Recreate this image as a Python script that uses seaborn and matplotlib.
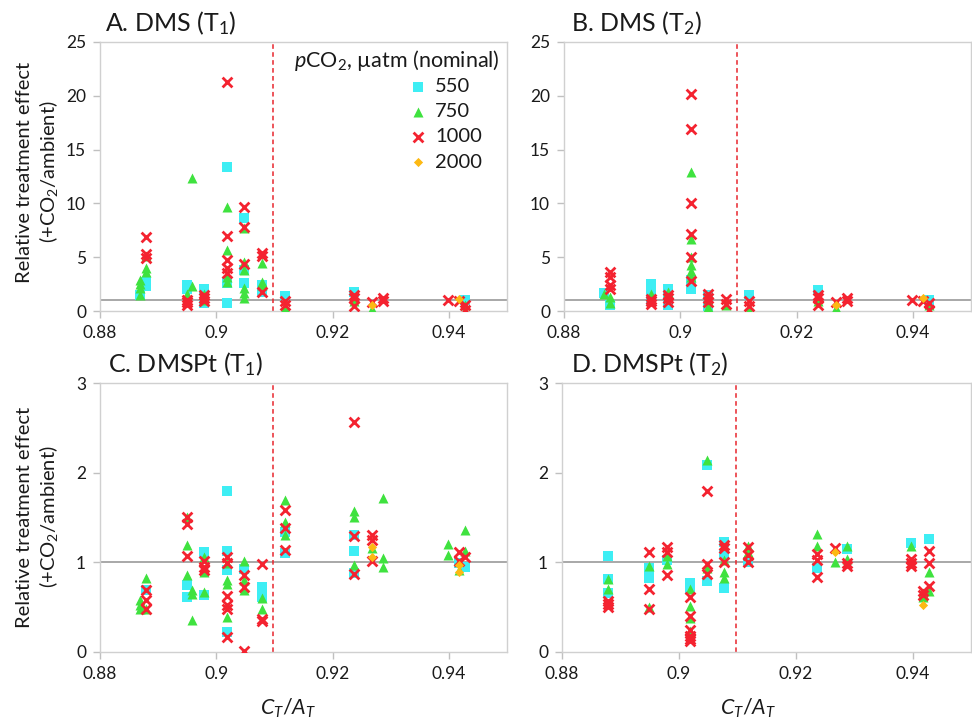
import matplotlib
matplotlib.use("Agg")
import matplotlib.pyplot as plt
import pandas as pd
import seaborn as sns

# ---------------- data ----------------
LEVELS = ["550", "750", "1000", "2000"]
XTICKS = [0.88, 0.90, 0.92, 0.94]
XTICK_LABELS = ["0.88", "0.9", "0.92", "0.94"]
YTICKS_DMS = [0, 5, 10, 15, 20, 25]
YTICKS_DMSP = [0, 1, 2, 3]
THRESHOLD = 0.9097

# Panel A: DMS (T1)  {CT/AT: [relative effects]}
A_550 = {0.8868: [1.5], 0.8879: [2.7, 2.3], 0.8949: [2.4, 2.0], 0.8979: [2.0, 0.7],
         0.9019: [13.4, 2.6, 0.75], 0.9048: [8.6, 3.8, 2.6], 0.9078: [2.4, 1.8],
         0.9118: [1.4], 0.9237: [1.8], 0.9428: [1.0]}
A_750 = {0.8868: [2.9, 2.5, 2.1, 1.5], 0.8879: [5.1, 4.0, 3.6], 0.8949: [1.6],
         0.8958: [12.4, 2.3], 0.8979: [1.6, 1.0], 0.9019: [9.7, 5.7, 3.2, 2.7],
         0.9048: [7.7, 4.6, 3.8, 2.1, 1.7, 1.2], 0.9078: [4.5, 2.7, 2.4],
         0.9118: [0.25], 0.9237: [0.9], 0.9267: [0.2], 0.9428: [0.6]}
A_1000 = {0.8879: [6.85, 5.3, 4.9], 0.8949: [1.0, 0.8, 0.6], 0.8979: [1.5, 1.2, 0.9],
          0.9019: [21.3, 7.0, 4.7, 4.0, 3.5], 0.9048: [9.7, 7.8, 4.4],
          0.9078: [5.4, 5.1, 1.8], 0.9118: [0.9, 0.55], 0.9237: [1.5, 1.2, 0.5],
          0.9267: [0.8], 0.9287: [1.2, 0.9], 0.9398: [1.0], 0.9417: [0.9],
          0.9428: [0.6, 0.1]}
A_2000 = {0.9267: [0.55], 0.9417: [1.15]}

# Panel B: DMS (T2)
B_550 = {0.8868: [1.7], 0.8879: [0.55], 0.8949: [2.5, 1.8, 1.0], 0.8979: [2.0, 1.2, 0.6],
         0.9019: [2.9, 2.0], 0.9048: [1.5, 0.5], 0.9118: [1.5], 0.9237: [1.95],
         0.9428: [1.05]}
B_750 = {0.8868: [1.6], 0.8879: [1.3, 0.7], 0.8949: [1.6], 0.8979: [1.8],
         0.9019: [12.9, 6.7, 5.0, 4.3, 3.7, 3.2], 0.9048: [0.9, 0.4], 0.9078: [0.55],
         0.9118: [0.1], 0.9237: [0.9], 0.9267: [0.25], 0.9428: [0.55]}
B_1000 = {0.8879: [3.65, 3.2, 2.4, 2.0], 0.8949: [1.1, 0.9, 0.65], 0.8979: [1.5, 1.2, 0.8],
          0.9019: [20.2, 16.9, 10.0, 7.2, 5.05, 2.8], 0.9048: [1.6, 1.2, 0.8],
          0.9078: [1.1, 0.65], 0.9118: [0.9, 0.5], 0.9237: [1.5, 1.2, 0.55],
          0.9267: [0.85], 0.9287: [1.2, 0.9], 0.9398: [1.0], 0.9417: [0.9],
          0.9428: [0.7, 0.05]}
B_2000 = {0.9267: [0.55], 0.9417: [1.2]}

# Panel C: DMSPt (T1)
C_550 = {0.8879: [0.69], 0.8949: [0.75, 0.61], 0.8979: [1.12, 0.64],
         0.9019: [1.80, 1.13, 0.91, 0.22], 0.9048: [0.93], 0.9078: [0.73, 0.61],
         0.9118: [1.34, 1.10], 0.9237: [1.30, 1.13, 0.88], 0.9417: [0.99], 0.9428: [0.95]}
C_750 = {0.8868: [0.58, 0.52, 0.48], 0.8879: [0.82, 0.48], 0.8949: [1.51, 1.19, 0.86],
         0.8958: [0.69, 0.65, 0.36], 0.8979: [1.06, 0.89, 0.67],
         0.9019: [0.99, 0.80, 0.76, 0.39], 0.9048: [1.02, 0.80, 0.69],
         0.9078: [0.60, 0.48], 0.9118: [1.70, 1.45, 1.30], 0.9237: [1.57, 1.51, 0.97],
         0.9267: [1.16], 0.9287: [1.72, 1.05, 0.95], 0.9398: [1.20, 1.08],
         0.9417: [0.91], 0.9428: [1.36, 1.13]}
C_1000 = {0.8879: [0.69, 0.58, 0.48], 0.8949: [1.51, 1.43, 1.07], 0.8979: [1.02, 0.95, 0.91],
          0.9019: [1.06, 0.99, 0.63, 0.52, 0.48, 0.17], 0.9048: [0.86, 0.72, 0.01],
          0.9078: [0.98, 0.37, 0.35], 0.9118: [1.58, 1.38, 1.14],
          0.9237: [2.57, 1.29, 0.87], 0.9267: [1.30, 1.25, 1.02],
          0.9417: [1.11, 1.01], 0.9428: [1.06]}
C_2000 = {0.9267: [1.17, 1.06], 0.9417: [0.97, 0.89]}

# Panel D: DMSPt (T2)
D_550 = {0.8879: [1.07, 0.81, 0.66], 0.8949: [0.94, 0.83], 0.8979: [1.03],
         0.9019: [0.77, 0.70], 0.9048: [2.08, 0.79], 0.9078: [1.23, 1.09, 0.71],
         0.9118: [1.0], 0.9237: [0.94], 0.9287: [1.15], 0.9398: [1.22], 0.9428: [1.26]}
D_750 = {0.8879: [0.81, 0.70], 0.8949: [0.96, 0.50], 0.8979: [1.07, 0.98],
         0.9019: [0.70, 0.51, 0.38, 0.23], 0.9048: [2.14, 0.94],
         0.9078: [1.03, 0.89, 0.83], 0.9118: [1.18, 1.12], 0.9237: [1.32, 1.18],
         0.9267: [1.00], 0.9287: [1.18, 1.04], 0.9398: [1.18], 0.9417: [0.66, 0.61],
         0.9428: [0.89, 0.68]}
D_1000 = {0.8879: [0.57, 0.53, 0.50], 0.8949: [1.11, 0.70, 0.48], 0.8979: [1.17, 1.11, 0.86],
          0.9019: [0.61, 0.40, 0.25, 0.18, 0.14, 0.12], 0.9048: [1.80, 0.98, 0.87],
          0.9078: [1.19, 1.16, 1.0], 0.9118: [1.17, 1.08, 1.0],
          0.9237: [1.09, 1.03, 0.84], 0.9267: [1.16], 0.9287: [0.99, 0.96],
          0.9398: [1.04, 0.99, 0.96], 0.9417: [0.68, 0.64], 0.9428: [1.13, 0.99, 0.74]}
D_2000 = {0.9267: [1.12], 0.9417: [0.52]}

PANELS = [
    ("A. DMS (T$_1$)", [A_550, A_750, A_1000, A_2000], YTICKS_DMS),
    ("B. DMS (T$_2$)", [B_550, B_750, B_1000, B_2000], YTICKS_DMS),
    ("C. DMSPt (T$_1$)", [C_550, C_750, C_1000, C_2000], YTICKS_DMSP),
    ("D. DMSPt (T$_2$)", [D_550, D_750, D_1000, D_2000], YTICKS_DMSP),
]

# ---------------- style ----------------
sns.set_theme(style="white")
plt.rcParams["font.family"] = ["Lato", "DejaVu Sans"]
plt.rcParams["mathtext.fontset"] = "custom"
plt.rcParams["mathtext.rm"] = "Lato"
plt.rcParams["mathtext.it"] = "Lato:italic"
plt.rcParams["mathtext.bf"] = "Lato:bold"

COLORS = {"550": "#3EEEF4", "750": "#3FE23F", "1000": "#F42330", "2000": "#FDB913"}
MARKERS = {"550": "s", "750": "^", "1000": "x", "2000": "D"}
SIZES = {"550": 44, "750": 52, "1000": 50, "2000": 22}
TEXT = "#1a1a1a"
W, H = 972, 728

fig = plt.figure(figsize=(W / 100, H / 100), dpi=100)

# axes rectangles in pixels: left, top, right, bottom
RECTS = [(100, 42, 507, 311), (564, 42, 971, 311),
         (100, 383, 507, 652), (562, 383, 971, 652)]
TITLE_POS = [(105, 31), (571, 31), (108, 372), (571, 372)]


def to_frame(d):
    rows = [(x, v) for x, vals in d.items() for v in vals]
    return pd.DataFrame(rows, columns=["ctat", "effect"])


for i, ((title, series, yticks), rect, tpos) in enumerate(zip(PANELS, RECTS, TITLE_POS)):
    l, t, r, b = rect
    ax = fig.add_axes([l / W, 1 - b / H, (r - l) / W, (b - t) / H])
    ax.axhline(1, color="#A8A8A8", lw=1.4, zorder=1)
    ax.axvline(THRESHOLD, color="#E8262E", lw=1.1, ls=(0, (3, 2.2)), zorder=1)
    for lev, d in zip(LEVELS, series):
        df = to_frame(d)
        kw = dict(marker=MARKERS[lev], s=SIZES[lev], color=COLORS[lev], zorder=3)
        if MARKERS[lev] == "x":
            kw.update(linewidth=2.0)
        else:
            kw.update(linewidth=0)
        if i == 0:
            kw["label"] = lev
        sns.scatterplot(data=df, x="ctat", y="effect", ax=ax, legend=False, **kw)
    ax.set_xlim(0.88, 0.95)
    ax.set_ylim(yticks[0], yticks[-1])
    ax.set_xticks(XTICKS)
    ax.set_xticklabels(XTICK_LABELS)
    ax.set_yticks(yticks)
    ax.set_xlabel("")
    ax.set_ylabel("")
    for sp in ax.spines.values():
        sp.set_color("#D0D0D0")
        sp.set_linewidth(1.0)
        sp.set_visible(True)
    ax.tick_params(axis="both", direction="out", length=5, width=1, color="#C0C0C0",
                   labelsize=12.5, labelcolor=TEXT, bottom=True, left=True)
    ax.tick_params(axis="x", pad=5)
    ax.tick_params(axis="y", pad=5)
    ax.grid(False)
    fig.text(tpos[0] / W, 1 - tpos[1] / H, title, fontsize=18, color=TEXT,
             ha="left", va="baseline")

    if i == 0:
        handles, labels = ax.get_legend_handles_labels()
        ax.legend(handles, labels, loc="upper left",
                  bbox_to_anchor=(406 / W, 1 - 78 / H), bbox_transform=fig.transFigure,
                  frameon=False, fontsize=14.5, labelspacing=0.4, handletextpad=0.25,
                  handlelength=1.2, borderpad=0, borderaxespad=0, labelcolor=TEXT)
        fig.text(500 / W, 1 - 67 / H, "$p$CO$_2$, \u00b5atm (nominal)", fontsize=15.5,
                 color=TEXT, ha="right", va="baseline")

# y-axis titles
for yc in (172, 517):
    fig.text(38 / W, 1 - yc / H, "Relative treatment effect\n(+CO$_2$/ambient)",
             rotation=90, fontsize=14.5, color=TEXT, ha="center", va="center",
             multialignment="center", linespacing=1.2)

# x-axis titles
for xc in (288, 748):
    fig.text(xc / W, 1 - 708 / H, "$C_T/A_T$", fontsize=15.5, color=TEXT,
             ha="center", va="center")

fig.savefig("out.png", dpi=100)
